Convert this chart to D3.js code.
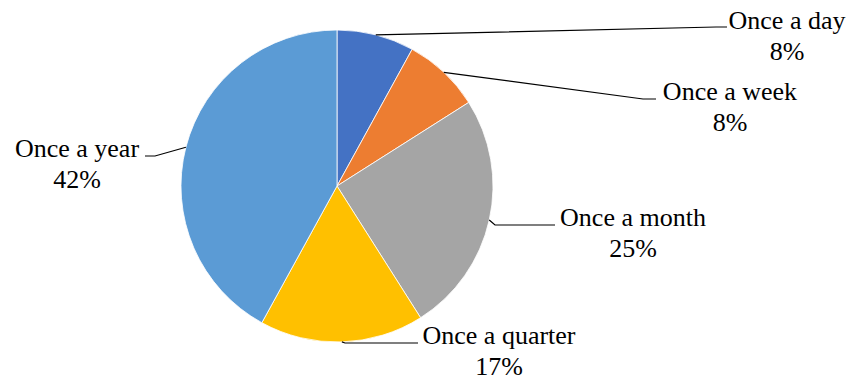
<!DOCTYPE html>
<html>
<head>
<meta charset="utf-8">
<script src="https://cdn.jsdelivr.net/npm/d3@7"></script>
<style>
  body { margin: 0; background: #fff; }
  svg { display: block; }
  .leader { fill: none; stroke: #000; stroke-width: 1.2px; }
</style>
</head>
<body>
<div id="chart"></div>
<script>
// data
const categories = ["Once a day", "Once a week", "Once a month", "Once a quarter", "Once a year"];
const shares = [8, 8, 25, 17, 42];
const colors = ["#4472C4", "#ED7D31", "#A5A5A5", "#FFC000", "#5B9BD5"];

// label placement (text centre x, first baseline y, leader elbow and end)
const labelLayout = [
    { x: 787, y: 29, elbow: [716, 27], endX: 727 },
    { x: 730, y: 100, elbow: [643, 99], endX: 656 },
    { x: 633, y: 226, elbow: [495, 225], endX: 555 },
    { x: 499, y: 344, elbow: [345, 343], endX: 418 },
    { x: 77, y: 157, elbow: [155, 156], endX: 145 }
];

const width = 860, height = 382;
const cx = 337, cy = 186, radius = 156;
const serif = "'Liberation Serif', 'Times New Roman', Times, 'DejaVu Serif', serif";

const svg = d3.select("#chart").append("svg")
    .attr("width", width)
    .attr("height", height);

const g = svg.append("g")
    .attr("transform", "translate(" + cx + "," + cy + ")");

const pie = d3.pie().sort(null).value(function(d) { return d; });
const arc = d3.arc().innerRadius(0).outerRadius(radius);
const arcs = pie(shares);
const pct = d3.format(".0%");
const total = d3.sum(shares);

g.selectAll(".slice")
    .data(arcs)
    .enter().append("path")
    .attr("class", "slice")
    .attr("d", arc)
    .attr("fill", function(d, i) { return colors[i]; })
    .attr("stroke", "#fff")
    .attr("stroke-width", 0.8);

// leader lines, from the slice's mid angle on the rim to the label
const line = d3.line();
svg.selectAll(".leader")
    .data(arcs)
    .enter().append("path")
    .attr("class", "leader")
    .attr("d", function(d, i) {
        const a = (d.startAngle + d.endAngle) / 2;
        const L = labelLayout[i];
        const start = [cx + radius * Math.sin(a), cy - radius * Math.cos(a)];
        return line([start, L.elbow, [L.endX, L.elbow[1]]]);
    });

const labels = svg.selectAll(".label")
    .data(arcs)
    .enter().append("g")
    .attr("class", "label")
    .attr("font-family", serif)
    .attr("font-size", 26)
    .attr("fill", "#000");

labels.append("text")
    .attr("x", function(d, i) { return labelLayout[i].x; })
    .attr("y", function(d, i) { return labelLayout[i].y; })
    .attr("text-anchor", "middle")
    .text(function(d, i) { return categories[i]; });

labels.append("text")
    .attr("x", function(d, i) { return labelLayout[i].x; })
    .attr("y", function(d, i) { return labelLayout[i].y + 31; })
    .attr("text-anchor", "middle")
    .text(function(d) { return pct(d.value / total); });
</script>
</body>
</html>
